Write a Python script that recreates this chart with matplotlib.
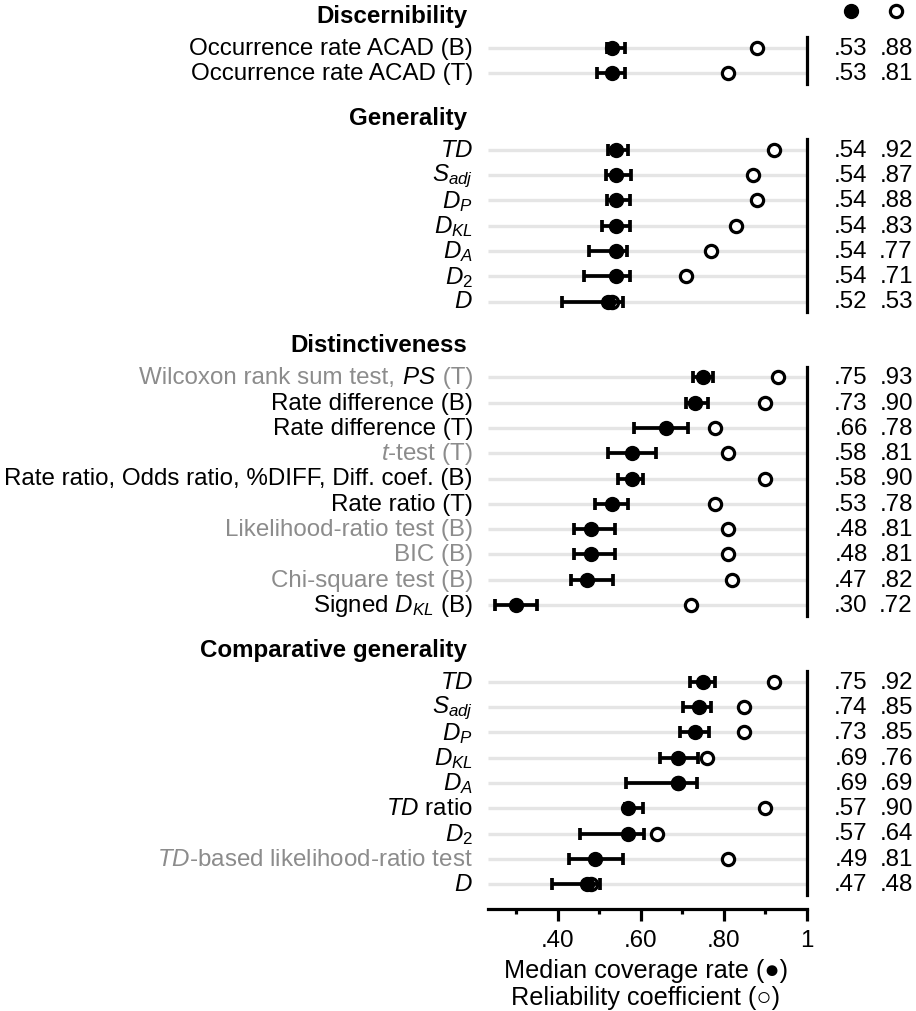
import numpy as np
import matplotlib
matplotlib.use("Agg")
import matplotlib.pyplot as plt
from matplotlib import transforms
from matplotlib.lines import Line2D
from matplotlib.offsetbox import TextArea, HPacker, AnnotationBbox

# ---------------- data ----------------
disc_labels = ["Occurrence rate ACAD (B)", "Occurrence rate ACAD (T)"]
disc_med = [0.53, 0.53]
disc_rel = [0.88, 0.81]
disc_lo = [0.518, 0.494]
disc_hi = [0.561, 0.561]

gen_labels = ["$TD$", "$S_{adj}$", "$D_P$", "$D_{KL}$", "$D_A$", "$D_2$", "$D$"]
gen_med = [0.54, 0.54, 0.54, 0.54, 0.54, 0.54, 0.52]
gen_rel = [0.92, 0.87, 0.88, 0.83, 0.77, 0.71, 0.53]
gen_lo = [0.520, 0.516, 0.519, 0.507, 0.475, 0.464, 0.410]
gen_hi = [0.569, 0.576, 0.574, 0.574, 0.568, 0.574, 0.558]

dist_labels = ["Wilcoxon rank sum test, $PS$ (T)", "Rate difference (B)",
               "Rate difference (T)", "$t$-test (T)",
               "Rate ratio, Odds ratio, %DIFF, Diff. coef. (B)", "Rate ratio (T)",
               "Likelihood-ratio test (B)", "BIC (B)", "Chi-square test (B)",
               "Signed $D_{KL}$ (B)"]
dist_med = [0.75, 0.73, 0.66, 0.58, 0.58, 0.53, 0.48, 0.48, 0.47, 0.30]
dist_rel = [0.93, 0.90, 0.78, 0.81, 0.90, 0.78, 0.81, 0.81, 0.82, 0.72]
dist_lo = [0.725, 0.708, 0.584, 0.520, 0.546, 0.490, 0.440, 0.440, 0.432, 0.249]
dist_hi = [0.775, 0.763, 0.713, 0.637, 0.606, 0.569, 0.538, 0.538, 0.534, 0.351]

comp_labels = ["$TD$", "$S_{adj}$", "$D_P$", "$D_{KL}$", "$D_A$", "$TD$ ratio",
               "$D_2$", "$TD$-based likelihood-ratio test", "$D$"]
comp_med = [0.75, 0.74, 0.73, 0.69, 0.69, 0.57, 0.57, 0.49, 0.47]
comp_rel = [0.92, 0.85, 0.85, 0.76, 0.69, 0.90, 0.64, 0.81, 0.48]
comp_lo = [0.719, 0.703, 0.695, 0.646, 0.565, 0.562, 0.454, 0.428, 0.386]
comp_hi = [0.779, 0.769, 0.765, 0.739, 0.735, 0.606, 0.609, 0.557, 0.502]

titles = ["Discernibility", "Generality", "Distinctiveness", "Comparative generality"]

gray_labels = {"Wilcoxon rank sum test, $PS$ (T)", "$t$-test (T)",
               "Likelihood-ratio test (B)", "BIC (B)", "Chi-square test (B)",
               "$TD$-based likelihood-ratio test"}

x_ticks = [0.40, 0.60, 0.80, 1.0]
x_ticklabels = [".40", ".60", ".80", "1"]
x_minor = [0.30, 0.50, 0.70, 0.90]

# ---------------- style ----------------
plt.rcParams["font.family"] = ["Liberation Sans", "DejaVu Sans"]
plt.rcParams["mathtext.fontset"] = "custom"
plt.rcParams["mathtext.rm"] = "Liberation Sans"
plt.rcParams["mathtext.it"] = "Liberation Sans:italic"
plt.rcParams["mathtext.bf"] = "Liberation Sans:bold"

W, H = 916, 1012
FS = 17.4
GRAY = "#8c8c8c"
fig = plt.figure(figsize=(W / 100, H / 100), dpi=100)


def fx(px):
    return px / W


def fy(py):
    return 1 - py / H


S = 25.3
PAD = 0.42
X0, X1 = 488, 806.7
XMIN, XMAX = 0.232, 1.0
LABEL_X = 473
NUM1_X, NUM2_X = 851, 896

panels = [
    (titles[0], 17, 49.0, disc_labels, disc_med, disc_rel, disc_lo, disc_hi),
    (titles[1], 119, 150.7, gen_labels, gen_med, gen_rel, gen_lo, gen_hi),
    (titles[2], 346, 378.3, dist_labels, dist_med, dist_rel, dist_lo, dist_hi),
    (titles[3], 651, 682.7, comp_labels, comp_med, comp_rel, comp_lo, comp_hi),
]


def fmt(v):
    return f"{v:.2f}"[1:]


for title, ty, first, labels, med, rel, lo, hi in panels:
    n = len(labels)
    med = np.array(med)
    rel = np.array(rel)
    lo = np.array(lo)
    hi = np.array(hi)
    top = first - PAD * S
    bot = first + (n - 1 + PAD) * S
    ax = fig.add_axes([fx(X0), fy(bot), fx(X1) - fx(X0), (bot - top) / H])
    ax.set_xlim(XMIN, XMAX)
    ax.set_ylim(n - 1 + PAD, -PAD)
    ax.axis("off")
    y = np.arange(n)
    ax.hlines(y, XMIN, XMAX, color="#e5e5e5", lw=2.4, zorder=1)
    ax.axvline(1.0, color="black", lw=2.3, zorder=2, clip_on=False)
    ax.plot(rel, y, "o", mfc="white", mec="black", ms=8.8, mew=2.3,
            ls="none", zorder=3, clip_on=False)
    ax.errorbar(med, y, xerr=[med - lo, hi - med], fmt="none", ecolor="black",
                elinewidth=2.7, capsize=4.4, capthick=2.7, zorder=4)
    ax.plot(med, y, "o", color="black", ms=10, ls="none", zorder=5)

    tr = transforms.blended_transform_factory(fig.transFigure, ax.transData)
    for i, lab in enumerate(labels):
        if lab.startswith("Wilcoxon"):
            parts = [TextArea("Wilcoxon rank sum test, ",
                              textprops=dict(color=GRAY, fontsize=FS)),
                     TextArea("$PS$", textprops=dict(color="black", fontsize=FS)),
                     TextArea(" (T)", textprops=dict(color=GRAY, fontsize=FS))]
            box = HPacker(children=parts, align="baseline", pad=0, sep=0)
            ab = AnnotationBbox(box, (fx(LABEL_X), i), xycoords=tr,
                                box_alignment=(1, 0.5), frameon=False, pad=0)
            ax.add_artist(ab)
        else:
            ax.text(fx(LABEL_X), i, lab, transform=tr, ha="right", va="center",
                    fontsize=FS, color=GRAY if lab in gray_labels else "black")
        ax.text(fx(NUM1_X), i, fmt(med[i]), transform=tr, ha="center",
                va="center", fontsize=FS)
        ax.text(fx(NUM2_X), i, fmt(rel[i]), transform=tr, ha="center",
                va="center", fontsize=FS)

    fig.text(fx(467), fy(ty), title, ha="right", va="center",
             fontweight="bold", fontsize=FS)

# legend symbols at top right
fig.add_artist(Line2D([fx(NUM1_X)], [fy(12)], marker="o", color="black", ms=10,
                      ls="none", transform=fig.transFigure))
fig.add_artist(Line2D([fx(NUM2_X)], [fy(12)], marker="o", mfc="white", mec="black",
                      ms=8.8, mew=2.3, ls="none", transform=fig.transFigure))

# x axis
axx = fig.add_axes([fx(X0), fy(910), fx(X1) - fx(X0), 0.0001])
axx.set_xlim(XMIN, XMAX)
axx.patch.set_visible(False)
for s in ["top", "left", "right"]:
    axx.spines[s].set_visible(False)
axx.spines["bottom"].set_linewidth(2.3)
axx.set_yticks([])
axx.set_xticks(x_ticks)
axx.set_xticklabels(x_ticklabels, fontsize=FS)
axx.set_xticks(x_minor, minor=True)
axx.tick_params(axis="x", which="major", length=8.6, width=2.3, pad=6)
axx.tick_params(axis="x", which="minor", length=3.8, width=2.3)

fig.text(fx(646), fy(971), "Median coverage rate (\u25cf)", ha="center",
         va="center", fontsize=18.2)
fig.text(fx(646), fy(998), "Reliability coefficient (\u25cb)", ha="center",
         va="center", fontsize=18.2)

fig.savefig("out.png", dpi=100)
